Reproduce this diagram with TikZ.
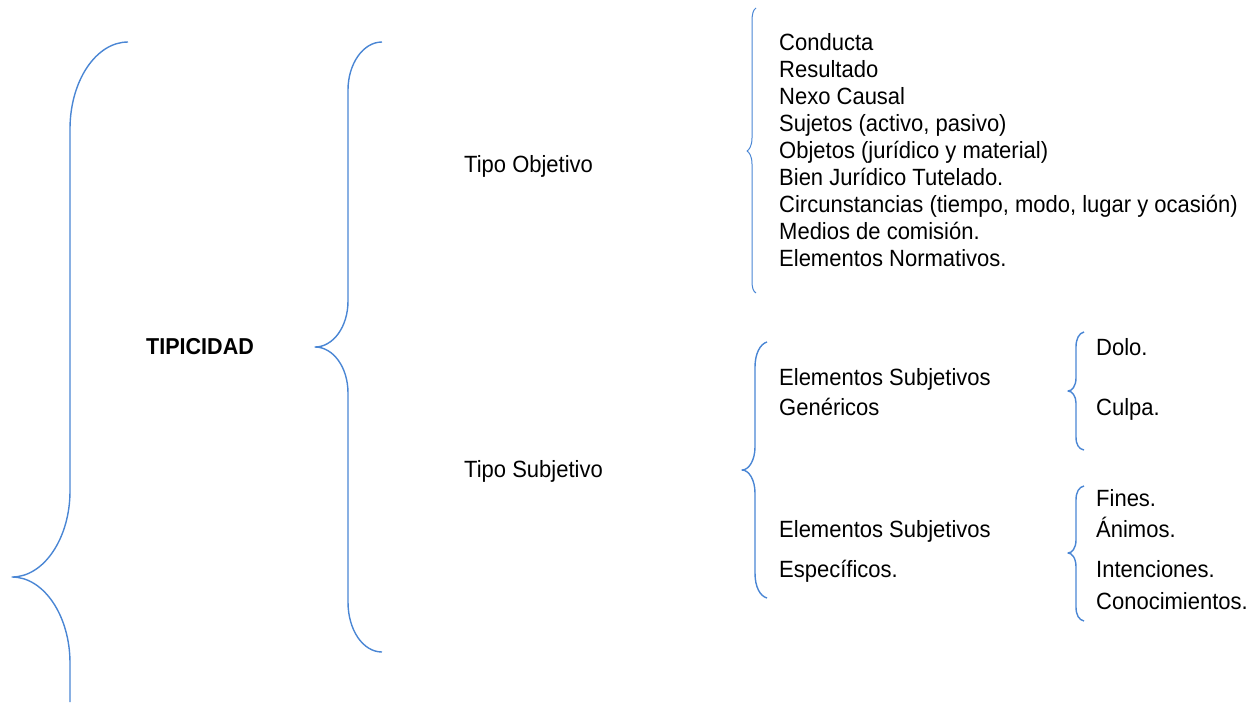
\documentclass[tikz,border=0pt]{standalone}
\usepackage{fontspec}
\setmainfont{Liberation Sans}[FakeStretch=0.936]
\definecolor{bl}{RGB}{74,134,212}
\begin{document}
\begin{tikzpicture}[x=1pt,y=-1pt,
 br/.style={draw=bl,line width=1.4pt,line join=round},
 lbl/.style={inner sep=0pt,anchor=base west,font=\fontsize{23.5}{28}\selectfont}]
\useasboundingbox (0,0) rectangle (1253,702);
% braces
\path[br] (128,42) .. controls (96,42) and (70,81) .. (70,129) -- (70,491)
  .. controls (70,538) and (44,577) .. (12,577)
  .. controls (44,577) and (70,616) .. (70,663) -- (70,702);
\path[br] (382,42) .. controls (363,42) and (348,64) .. (348,90) -- (348,301)
  .. controls (348,327) and (333,347) .. (315,347)
  .. controls (333,347) and (348,367) .. (348,393) -- (348,602)
  .. controls (348,630) and (363,652) .. (382,652);
\path[br,line width=1pt] (756,8) .. controls (753,10) and (752,14) .. (752,22) -- (752,138)
  .. controls (752,146) and (749,150) .. (747,151)
  .. controls (749,152) and (752,156) .. (752,164) -- (752,280)
  .. controls (752,288) and (753,291) .. (756,293);
\path[br] (767,342) .. controls (760,344) and (755,354) .. (755,367) -- (755,447)
  .. controls (755,460) and (749,470) .. (742,470)
  .. controls (749,470) and (755,480) .. (755,493) -- (755,573)
  .. controls (755,587) and (760,596) .. (767,598);
\path[br] (1084,332) .. controls (1079,333) and (1076,339) .. (1076,347) -- (1076,378)
  .. controls (1076,386) and (1072,391) .. (1068,391)
  .. controls (1072,391) and (1076,396) .. (1076,403) -- (1076,437)
  .. controls (1076,445) and (1079,449) .. (1084,450);
\path[br] (1084,486) .. controls (1079,487) and (1076,492) .. (1076,500) -- (1076,540)
  .. controls (1076,548) and (1072,553) .. (1068,553)
  .. controls (1072,553) and (1076,558) .. (1076,567) -- (1076,607)
  .. controls (1076,615) and (1079,620) .. (1084,621);
% texts
\node[lbl,font=\fontsize{23}{28}\selectfont\bfseries] (tip) at (146,354) {TIPICIDAD};
\node[lbl] (tobj) at (464,172) {Tipo Objetivo};
\node[lbl] (tsub) at (464,477) {Tipo Subjetivo};
\foreach \t [count=\i] in {Conducta, Resultado, Nexo Causal, {Sujetos (activo, pasivo)}, {Objetos (jurídico y material)}, Bien Jurídico Tutelado., {Circunstancias (tiempo, modo, lugar y ocasión)}, Medios de comisión., Elementos Normativos.}
  \node[lbl] (obj\i) at (779,{50+27*(\i-1)}) {\t};
\node[lbl] (esg1) at (779,385) {Elementos Subjetivos};
\node[lbl] (esg2) at (779,415) {Genéricos};
\node[lbl] (ese1) at (779,537) {Elementos Subjetivos};
\node[lbl] (ese2) at (779,577) {Específicos.};
\node[lbl] (dolo) at (1096,355) {Dolo.};
\node[lbl] (culpa) at (1096,415) {Culpa.};
\node[lbl] (fines) at (1096,506) {Fines.};
\node[lbl] (animos) at (1096,537) {Ánimos.};
\node[lbl] (inten) at (1096,577) {Intenciones.};
\node[lbl] (conoc) at (1096,609) {Conocimientos.};
\end{tikzpicture}
\end{document}
